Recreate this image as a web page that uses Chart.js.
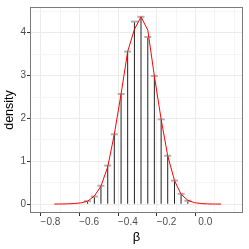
<!DOCTYPE html>
<html><head><meta charset="utf-8">
<script src="https://cdn.jsdelivr.net/npm/chart.js@4/dist/chart.umd.min.js"></script>
<style>html,body{margin:0;padding:0;background:#fff;}canvas{display:block;}</style>
</head><body>
<canvas id="c" width="249" height="249"></canvas>
<script>
// Points of the red density curve
const curveX = [-0.780, -0.746, -0.711, -0.677, -0.642, -0.608, -0.573, -0.539, -0.504, -0.470,
                -0.435, -0.401, -0.366, -0.332, -0.297, -0.263, -0.228, -0.194, -0.159, -0.125,
                -0.090, -0.056, -0.021, 0.013, 0.048, 0.082];
const curveY = [0.003, 0.004, 0.008, 0.015, 0.03, 0.07, 0.19, 0.42, 0.87, 1.63,
                2.57, 3.56, 4.08, 4.37, 4.06, 2.99, 1.98, 1.13, 0.55, 0.23,
                0.09, 0.035, 0.015, 0.006, 0.003, 0.002];
// Spikes (histogram heights) with grey error caps
const spikeX = [-0.608, -0.573, -0.539, -0.504, -0.470, -0.435, -0.401, -0.366,
                -0.332, -0.297, -0.263, -0.228, -0.194, -0.159, -0.125, -0.090];
const spikeY = [0.07, 0.18, 0.43, 0.90, 1.63, 2.57, 3.56, 4.26,
                4.37, 3.90, 2.99, 1.98, 1.13, 0.55, 0.24, 0.08];
const xMajorTicks = [-0.8, -0.6, -0.4, -0.2, 0.0];
const yMajorTicks = [0, 1, 2, 3, 4];

const pts = (xs, ys) => xs.map((x, i) => ({x: x, y: ys[i]}));
const isMajor = (v, list) => list.some(m => Math.abs(m - v) < 1e-6);
const tickMajor = (ctx, list) => !!(ctx && ctx.tick && isMajor(ctx.tick.value, list));
const fmt = v => { const s = (Math.round(v * 10) / 10).toFixed(1); return s.replace('-', '\u2212'); };

const borderPlugin = {
  id: 'panelBorder',
  afterDraw(chart) {
    const a = chart.chartArea, c = chart.ctx;
    c.save();
    c.strokeStyle = '#7a7a7a';
    c.lineWidth = 1;
    c.strokeRect(Math.round(a.left) + 0.5, Math.round(a.top) + 0.5,
                 Math.round(a.right - a.left) - 1, Math.round(a.bottom - a.top) - 1);
    c.restore();
  }
};

new Chart(document.getElementById('c'), {
  type: 'bar',
  data: {
    datasets: [
      { type: 'line', data: pts(curveX, curveY), borderColor: '#FF0000', borderWidth: 1,
        pointRadius: 0, fill: false, tension: 0, order: 0 },
      { type: 'scatter', data: pts(spikeX, spikeY), pointStyle: 'line', pointRadius: 3.5,
        borderColor: '#B0B0B0', backgroundColor: '#B0B0B0', pointBorderWidth: 2, borderWidth: 2, order: 1 },
      { type: 'bar', data: pts(spikeX, spikeY), backgroundColor: '#222222', barThickness: 1,
        inflateAmount: 0, borderWidth: 0, order: 2 }
    ]
  },
  options: {
    responsive: false,
    animation: false,
    devicePixelRatio: 1,
    layout: { padding: { top: 3, right: 3.5, left: 0, bottom: 0 } },
    plugins: { legend: { display: false }, tooltip: { enabled: false } },
    scales: {
      x: {
        type: 'linear', min: -0.8506, max: 0.140,
        afterFit: s => { s.height = 36; },
        border: { display: false },
        grid: {
          color: ctx => tickMajor(ctx, xMajorTicks) ? '#EBEBEB' : '#F5F5F5',
          tickColor: ctx => tickMajor(ctx, xMajorTicks) ? '#333333' : 'rgba(0,0,0,0)',
          tickLength: 3, lineWidth: 1
        },
        ticks: {
          stepSize: 0.1, includeBounds: false, autoSkip: false, maxRotation: 0,
          padding: 0, color: '#4D4D4D', font: { family: 'Liberation Sans', size: 10 },
          callback: v => isMajor(v, xMajorTicks) ? fmt(v) : ''
        },
        title: { display: true, text: '\u03B2', color: '#000', padding: { top: 4, bottom: 4 },
                 font: { family: 'Liberation Sans', size: 13 } }
      },
      y: {
        type: 'linear', min: -0.206, max: 4.60,
        afterFit: s => { s.width = 30; },
        border: { display: false },
        grid: {
          color: ctx => tickMajor(ctx, yMajorTicks) ? '#EBEBEB' : '#F5F5F5',
          tickColor: ctx => tickMajor(ctx, yMajorTicks) ? '#333333' : 'rgba(0,0,0,0)',
          tickLength: 3, lineWidth: 1
        },
        ticks: {
          stepSize: 0.5, includeBounds: false, autoSkip: false, padding: 1,
          color: '#4D4D4D', font: { family: 'Liberation Sans', size: 10 },
          callback: v => isMajor(v, yMajorTicks) ? String(Math.round(v)) : ''
        },
        title: { display: true, text: 'density', color: '#000', padding: { top: 2, bottom: 2 },
                 font: { family: 'Liberation Sans', size: 12.5 } }
      }
    }
  },
  plugins: [borderPlugin]
});
</script>
</body></html>
